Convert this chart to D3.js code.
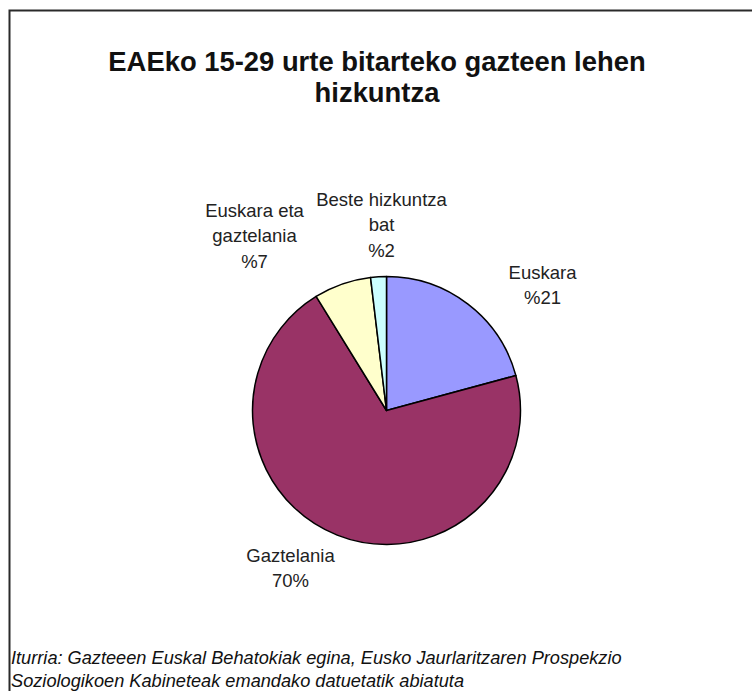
<!DOCTYPE html>
<html><head><meta charset="utf-8">
<script src="https://cdn.jsdelivr.net/npm/d3@7"></script>
<style>body{margin:0;background:#fff}svg{display:block}</style>
</head><body>
<script>
const categories = ["Euskara", "Gaztelania", "Euskara eta gaztelania", "Beste hizkuntza bat"];
const values = [20.8, 70.4, 6.9, 1.9];
const labelLines = [["Euskara", "%21"], ["Gaztelania", "70%"], ["Euskara eta", "gaztelania", "%7"], ["Beste hizkuntza", "bat", "%2"]];
const colors = ["#9999FF", "#993366", "#FFFFCC", "#CCFFFF"];
const titleLines = ["EAEko 15-29 urte bitarteko gazteen lehen", "hizkuntza"];
const sourceLines = ["Iturria: Gazteeen Euskal Behatokiak egina, Eusko Jaurlaritzaren Prospekzio", "Soziologikoen Kabineteak emandako datuetatik abiatuta"];

const W = 752, H = 691;
const cx = 386.5, cy = 410.5, r = 134;
// label anchor offsets (first baseline) relative to pie centre
const labelOffsets = [[156, -132], [-96, 151], [-132, -194], [-5, -205]];

const svg = d3.select("body").append("svg").attr("width", W).attr("height", H);
svg.append("path").attr("d", `M9.5,${H+5} V10.5 H${W+5}`).attr("fill", "none").attr("stroke", "#2a2a2a").attr("stroke-width", 2);

svg.append("g").selectAll("text").data(titleLines).join("text")
  .attr("x", 377).attr("y", (d, i) => 71 + i * 31)
  .attr("text-anchor", "middle").attr("font-family", "Liberation Sans, Arial, sans-serif")
  .attr("font-weight", "bold").attr("font-size", 27.4).attr("fill", "#111").text(d => d);

const pie = d3.pie().sort(null).value(d => d)(values);
const arc = d3.arc().innerRadius(0).outerRadius(r);
const g = svg.append("g").attr("transform", `translate(${cx},${cy})`);
g.selectAll("path").data(pie).join("path")
  .attr("d", arc).attr("fill", (d, i) => colors[i])
  .attr("stroke", "#000").attr("stroke-width", 1.5).attr("stroke-linejoin", "round");

const lg = g.append("g");
labelLines.forEach((lines, i) => {
  const [dx, dy] = labelOffsets[i];
  lg.append("g").selectAll("text").data(lines).join("text")
    .attr("x", dx).attr("y", (d, j) => dy + j * 25.5)
    .attr("text-anchor", "middle").attr("font-family", "Liberation Sans, Arial, sans-serif")
    .attr("font-size", 18.5).attr("fill", "#222").text(d => d);
});

svg.append("g").selectAll("text").data(sourceLines).join("text")
  .attr("x", 11).attr("y", (d, i) => 664 + i * 22.5)
  .attr("font-family", "Liberation Sans, Arial, sans-serif").attr("font-style", "italic")
  .attr("font-size", 18.2).attr("fill", "#111").text(d => d);
</script>
</body></html>
